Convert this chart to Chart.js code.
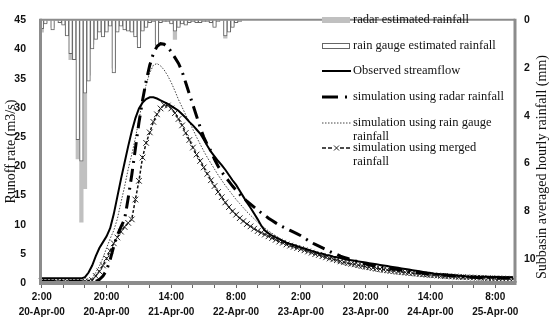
<!DOCTYPE html>
<html>
<head>
<meta charset="utf-8">
<script src="https://cdn.jsdelivr.net/npm/chart.js@4.4.0/dist/chart.umd.min.js"></script>
<style>
  html, body { margin: 0; padding: 0; background: #fff; }
</style>
</head>
<body>
<canvas id="flow" width="550" height="320"></canvas>
<script>
// hourly categories, 2:00 20-Apr-00 .. 13:00 25-Apr-00
var hourLabels = [];
for (let i = 0; i < 132; i++) {
    let h = (2 + i) % 24;
    let d = 20 + Math.floor((2 + i) / 24);
    hourLabels.push([h + ':00', d + '-Apr-00']);
}
var labelEvery = 18;
var tickEvery = 6;

var seriesNames = [
    ['radar estimated rainfall'],
    ['rain gauge estimated rainfall'],
    ['Observed streamflow'],
    ['simulation using radar rainfall'],
    ['simulation using rain gauge', 'rainfall'],
    ['simulation using merged', 'rainfall']
];

// subbasin averaged hourly rainfall (mm)
var radarRain = [0.5, 0.1, 0, 0.3, 0, 0.1, 0.15, 0.6, 1.65, 1.5,
    5.8, 8.45, 7.05, 2.3, 1.0, 0.7, 0.4, 0.6, 0.4, 0.2,
    2.0, 0.4, 0.2, 0.3, 0.4, 0.4, 0.6, 1.0, 0.4, 0.2,
    0.1, 0.05, 0.9, 0.1, 0.05, 0.05, 0.1, 0.8, 0.25, 0.1,
    0.15, 0.1, 0.05, 0.05, 0.1, 0.05, 0.05, 0.1, 0.25, 0.05,
    0, 0.75, 0.45, 0.25, 0.1, 0.05];
var gaugeRain = [0.35, 0.15, 0, 0.4, 0, 0.1, 0.2, 0.65, 1.4, 1.65,
    5.0, 5.9, 3.05, 2.55, 1.2, 0.8, 0.5, 0.7, 0.5, 0.25,
    2.2, 0.5, 0.25, 0.4, 0.45, 0.5, 0.7, 1.15, 0.45, 0.3,
    0.1, 0.05, 1.05, 0.1, 0.05, 0.05, 0.15, 0.45, 0.3, 0.15,
    0.2, 0.1, 0.05, 0.1, 0.1, 0.05, 0.05, 0.1, 0.3, 0.05,
    0, 0.65, 0.5, 0.3, 0.1, 0.05];

// runoff rate (m3/s)
var observed = [0.8, 0.8, 0.8, 0.8, 0.8, 0.8, 0.8, 0.8, 0.8, 0.8,
    0.8, 0.8, 1.0, 1.8, 3.0, 4.6, 6.0, 7.0, 8.0, 9.4,
    11.8, 14.8, 17.8, 20.6, 23.4, 26.0, 28.2, 29.9, 30.9, 31.5,
    31.8, 31.8, 31.6, 31.3, 31.0, 30.7, 30.3, 29.9, 29.5, 28.9,
    28.3, 27.6, 27.0, 26.3, 25.6, 24.6, 23.5, 22.5, 21.7, 20.9,
    20.2, 19.4, 18.5, 17.6, 16.8, 15.8, 14.8, 13.8, 12.9, 11.9,
    10.9, 9.8, 9.0, 8.5, 8.1, 7.8, 7.5, 7.2, 6.9, 6.7,
    6.5, 6.3, 6.1, 5.9, 5.7, 5.5, 5.3, 5.1, 5.0, 4.8,
    4.7, 4.5, 4.4, 4.3, 4.1, 4.0, 3.9, 3.8, 3.7, 3.6,
    3.5, 3.4, 3.3, 3.2, 3.1, 3.0, 2.9, 2.8, 2.7, 2.6,
    2.5, 2.4, 2.3, 2.2, 2.1, 2.0, 1.9, 1.8, 1.7, 1.6,
    1.55, 1.5, 1.45, 1.4, 1.35, 1.3, 1.25, 1.2, 1.15, 1.12,
    1.1, 1.08, 1.06, 1.05, 1.04, 1.03, 1.02, 1.01, 1.0, 1.0,
    1.0, 1.0];
var simRadar = [0.3, 0.3, 0.3, 0.3, 0.3, 0.3, 0.3, 0.3, 0.3, 0.3,
    0.3, 0.3, 0.3, 0.3, 0.3, 0.3, 0.6, 1.2, 2.2, 4.0,
    6.3, 8.2, 9.6, 10.9, 14.5, 18.5, 23.0, 27.5, 31.3, 34.6,
    37.3, 39.3, 40.5, 41.0, 40.9, 40.4, 39.6, 38.6, 37.6, 36.2,
    34.3, 32.4, 30.5, 28.6, 26.7, 25.0, 23.7, 22.6, 21.2, 20.0,
    19.0, 18.2, 17.4, 16.6, 15.9, 15.2, 14.6, 14.0, 13.5, 13.0,
    12.5, 12.0, 11.6, 11.1, 10.7, 10.3, 9.9, 9.6, 9.3, 9.0,
    8.7, 8.4, 8.1, 7.7, 7.3, 6.9, 6.6, 6.3, 6.0, 5.7,
    5.4, 5.1, 4.9, 4.6, 4.4, 4.2, 4.0, 3.8, 3.6, 3.4,
    3.3, 3.1, 3.0, 2.9, 2.8, 2.7, 2.6, 2.5, 2.4, 2.3,
    2.2, 2.1, 2.0, 1.9, 1.8, 1.75, 1.7, 1.6, 1.55, 1.5,
    1.45, 1.4, 1.35, 1.3, 1.25, 1.2, 1.15, 1.1, 1.05, 1.0,
    0.98, 0.96, 0.94, 0.92, 0.9, 0.89, 0.88, 0.87, 0.86, 0.85,
    0.85, 0.85];
var simGauge = [0.3, 0.3, 0.3, 0.3, 0.3, 0.3, 0.3, 0.3, 0.3, 0.3,
    0.3, 0.3, 0.3, 0.3, 0.8, 1.8, 2.9, 4.3, 6.0, 7.6,
    9.0, 11.0, 13.8, 16.5, 19.5, 22.0, 24.8, 28.0, 31.3, 34.0,
    36.0, 37.3, 37.6, 37.2, 36.5, 35.5, 34.3, 32.9, 31.4, 30.1,
    28.8, 27.6, 26.3, 25.0, 23.8, 22.6, 21.5, 20.5, 19.5, 18.5,
    17.6, 16.7, 15.9, 15.1, 14.3, 13.6, 12.9, 12.2, 11.6, 11.0,
    10.4, 9.9, 9.4, 8.9, 8.5, 8.1, 7.7, 7.3, 7.0, 6.7,
    6.4, 6.1, 5.8, 5.6, 5.4, 5.2, 5.0, 4.8, 4.5, 4.3,
    4.0, 3.8, 3.6, 3.4, 3.2, 3.05, 2.9, 2.75, 2.6, 2.5,
    2.35, 2.25, 2.1, 2.0, 1.9, 1.8, 1.72, 1.64, 1.56, 1.5,
    1.44, 1.38, 1.32, 1.26, 1.2, 1.15, 1.1, 1.06, 1.02, 0.98,
    0.95, 0.92, 0.89, 0.86, 0.83, 0.8, 0.78, 0.76, 0.74, 0.72,
    0.7, 0.68, 0.66, 0.64, 0.63, 0.62, 0.6, 0.59, 0.58, 0.57,
    0.56, 0.55];
var simMerged = [0.3, 0.3, 0.3, 0.3, 0.3, 0.3, 0.3, 0.3, 0.3, 0.3,
    0.3, 0.3, 0.3, 0.3, 0.5, 1.2, 2.0, 3.0, 4.2, 5.5,
    6.8, 7.8, 8.8, 9.6, 10.3, 10.9, 14.3, 17.5, 21.5, 24.0,
    25.8, 27.6, 28.9, 29.9, 30.5, 30.4, 29.9, 29.1, 28.1, 27.0,
    25.7, 24.5, 23.2, 22.0, 20.9, 19.8, 18.7, 17.6, 16.6, 15.6,
    14.7, 13.8, 13.0, 12.3, 11.7, 11.1, 10.6, 10.1, 9.7, 9.3,
    8.9, 8.6, 8.3, 8.0, 7.7, 7.4, 7.1, 6.9, 6.6, 6.4,
    6.2, 6.0, 5.8, 5.6, 5.4, 5.2, 4.95, 4.8, 4.6, 4.4,
    4.2, 4.05, 3.9, 3.7, 3.55, 3.4, 3.3, 3.2, 3.05, 2.95,
    2.8, 2.7, 2.6, 2.5, 2.4, 2.3, 2.22, 2.14, 2.06, 1.98,
    1.9, 1.83, 1.76, 1.69, 1.62, 1.55, 1.49, 1.43, 1.38, 1.32,
    1.27, 1.23, 1.19, 1.15, 1.11, 1.07, 1.04, 1.01, 0.98, 0.95,
    0.92, 0.9, 0.88, 0.86, 0.84, 0.82, 0.8, 0.78, 0.76, 0.74,
    0.72, 0.7];

var frameGray = '#8c8c8c';
var serif = '"Liberation Serif", "Times New Roman", serif';
Chart.defaults.font.family = '"Liberation Sans", Arial, sans-serif';
Chart.defaults.color = '#111';

// frame, right axis title and legend drawn on top of the chart
var extras = {
    id: 'extras',
    afterDatasetsDraw: function (chart) {
        var c = chart.ctx, a = chart.chartArea;
        c.save();
        c.strokeStyle = frameGray;
        c.lineWidth = 2;
        c.beginPath(); c.moveTo(a.left, a.top - 0.5); c.lineTo(a.right, a.top - 0.5); c.stroke();
        c.lineWidth = 3;
        c.beginPath(); c.moveTo(a.left + 0.5, a.top - 1.5); c.lineTo(a.left + 0.5, a.bottom); c.stroke();
        c.beginPath(); c.moveTo(a.right, a.top - 1.5); c.lineTo(a.right, a.bottom); c.stroke();
        c.lineWidth = 4;
        c.beginPath(); c.moveTo(a.left - 1, a.bottom); c.lineTo(a.right + 1.5, a.bottom); c.stroke();
        c.restore();
    },
    afterDraw: function (chart) {
        var c = chart.ctx;
        c.save();
        // right axis title, reading bottom to top
        c.font = '14px ' + serif;
        c.fillStyle = '#111';
        c.textAlign = 'center';
        c.textBaseline = 'middle';
        c.translate(542, 167);
        c.rotate(-Math.PI / 2);
        c.fillText('Subbasin averaged hourly rainfall (mm)', 0, 0);
        c.restore();

        // legend
        var rows = [20, 46, 71, 97, 123, 148];
        var order = [5, 4, 0, 1, 2, 3];
        var x0 = 322, x1 = 351;
        c.save();
        c.font = '12.5px ' + serif;
        c.textBaseline = 'middle';
        c.textAlign = 'left';
        for (let k = 0; k < order.length; k++) {
            let ds = chart.data.datasets[order[k]];
            let y = rows[k];
            if (ds.type === 'bar') {
                c.fillStyle = ds.backgroundColor;
                c.fillRect(x0, y - 3, 28, 6);
                if (ds.borderWidth) {
                    c.strokeStyle = ds.borderColor;
                    c.lineWidth = 1;
                    c.strokeRect(x0 + 0.5, y - 2.5, 27, 5);
                }
            } else {
                c.strokeStyle = ds.borderColor;
                c.lineWidth = ds.borderWidth;
                c.setLineDash(ds.legendDash || ds.borderDash || []);
                c.beginPath(); c.moveTo(x0, y); c.lineTo(x1, y); c.stroke();
                c.setLineDash([]);
                if (ds.pointStyle === 'crossRot') {
                    c.fillStyle = '#fff';
                    c.fillRect(333, y - 3, 7, 6);
                    c.lineWidth = 1;
                    c.strokeStyle = ds.pointBorderColor;
                    c.beginPath();
                    c.moveTo(334, y - 2.5); c.lineTo(339, y + 2.5);
                    c.moveTo(339, y - 2.5); c.lineTo(334, y + 2.5);
                    c.stroke();
                }
            }
            c.fillStyle = '#111';
            let lines = seriesNames[ds.nameIndex];
            for (let j = 0; j < lines.length; j++) {
                c.fillText(lines[j], 353, y + j * 13.5);
            }
        }
        c.restore();
    }
};

var ctx = document.getElementById('flow').getContext('2d');

var chart = new Chart(ctx, {
    type: 'bar',
    data: {
        labels: hourLabels,
        datasets: [{
            type: 'line',
            nameIndex: 2,
            label: seriesNames[2].join(' '),
            data: observed,
            yAxisID: 'y',
            borderColor: '#000',
            borderWidth: 2,
            pointRadius: 0,
            order: 0
        }, {
            type: 'line',
            nameIndex: 3,
            label: seriesNames[3].join(' '),
            data: simRadar,
            yAxisID: 'y',
            borderColor: '#000',
            borderWidth: 3,
            borderDash: [13, 6, 2, 6],
            legendDash: [16, 7, 2, 30],
            pointRadius: 0,
            order: 0
        }, {
            type: 'line',
            nameIndex: 4,
            label: seriesNames[4].join(' '),
            data: simGauge,
            yAxisID: 'y',
            borderColor: '#444',
            borderWidth: 1,
            borderDash: [1.5, 1.5],
            pointRadius: 0,
            order: 0
        }, {
            type: 'line',
            nameIndex: 5,
            label: seriesNames[5].join(' '),
            data: simMerged,
            yAxisID: 'y',
            borderColor: '#111',
            borderWidth: 1.5,
            borderDash: [3, 2],
            legendDash: [4, 2],
            pointStyle: 'crossRot',
            pointRadius: 4,
            pointBorderWidth: 1,
            pointBorderColor: '#222',
            pointBackgroundColor: 'rgba(0,0,0,0)',
            order: 0
        }, {
            type: 'bar',
            nameIndex: 1,
            label: seriesNames[1].join(' '),
            data: gaugeRain,
            yAxisID: 'y2',
            backgroundColor: '#ffffff',
            borderColor: '#666666',
            borderWidth: 1,
            order: 1
        }, {
            type: 'bar',
            nameIndex: 0,
            label: seriesNames[0].join(' '),
            data: radarRain,
            yAxisID: 'y2',
            backgroundColor: '#c0c0c0',
            borderWidth: 0,
            order: 2
        }]
    },
    options: {
        responsive: false,
        animation: false,
        devicePixelRatio: 1,
        layout: { padding: { top: 8, left: 0, right: 0, bottom: 0 } },
        datasets: {
            bar: { grouped: false, barPercentage: 1, categoryPercentage: 1 },
            line: { tension: 0 }
        },
        plugins: {
            legend: { display: false },
            tooltip: { enabled: false }
        },
        scales: {
            x: {
                type: 'category',
                offset: true,
                border: { display: false },
                grid: {
                    display: true,
                    drawOnChartArea: false,
                    drawTicks: true,
                    offset: false,
                    tickLength: 5,
                    tickWidth: 1,
                    tickColor: function (c) { return c.index % tickEvery === 0 ? '#666' : 'rgba(0,0,0,0)'; }
                },
                ticks: {
                    autoSkip: false,
                    maxRotation: 0,
                    minRotation: 0,
                    padding: 2,
                    font: { size: 10, weight: 'bold', lineHeight: 1.5 },
                    callback: function (v, i) { return i % labelEvery === 0 ? hourLabels[i] : ''; }
                },
                afterFit: function (s) { s.height = 37; }
            },
            y: {
                position: 'left',
                min: 0,
                max: 45,
                border: { display: false },
                grid: { display: false, drawTicks: false },
                ticks: { stepSize: 5, padding: 14, font: { size: 10.5, weight: 'bold' } },
                title: {
                    display: true,
                    text: 'Runoff rate (m3/s)',
                    font: { family: serif, size: 14 },
                    padding: { top: 3, bottom: 0 }
                },
                afterFit: function (s) { s.width = 40; }
            },
            y2: {
                position: 'right',
                reverse: true,
                min: 0,
                max: 11,
                border: { display: false },
                grid: { display: false, drawTicks: false },
                ticks: { stepSize: 2, includeBounds: false, padding: 9, font: { size: 10.5, weight: 'bold' } },
                afterFit: function (s) { s.width = 35; }
            }
        }
    },
    plugins: [extras]
});
</script>
</body>
</html>
